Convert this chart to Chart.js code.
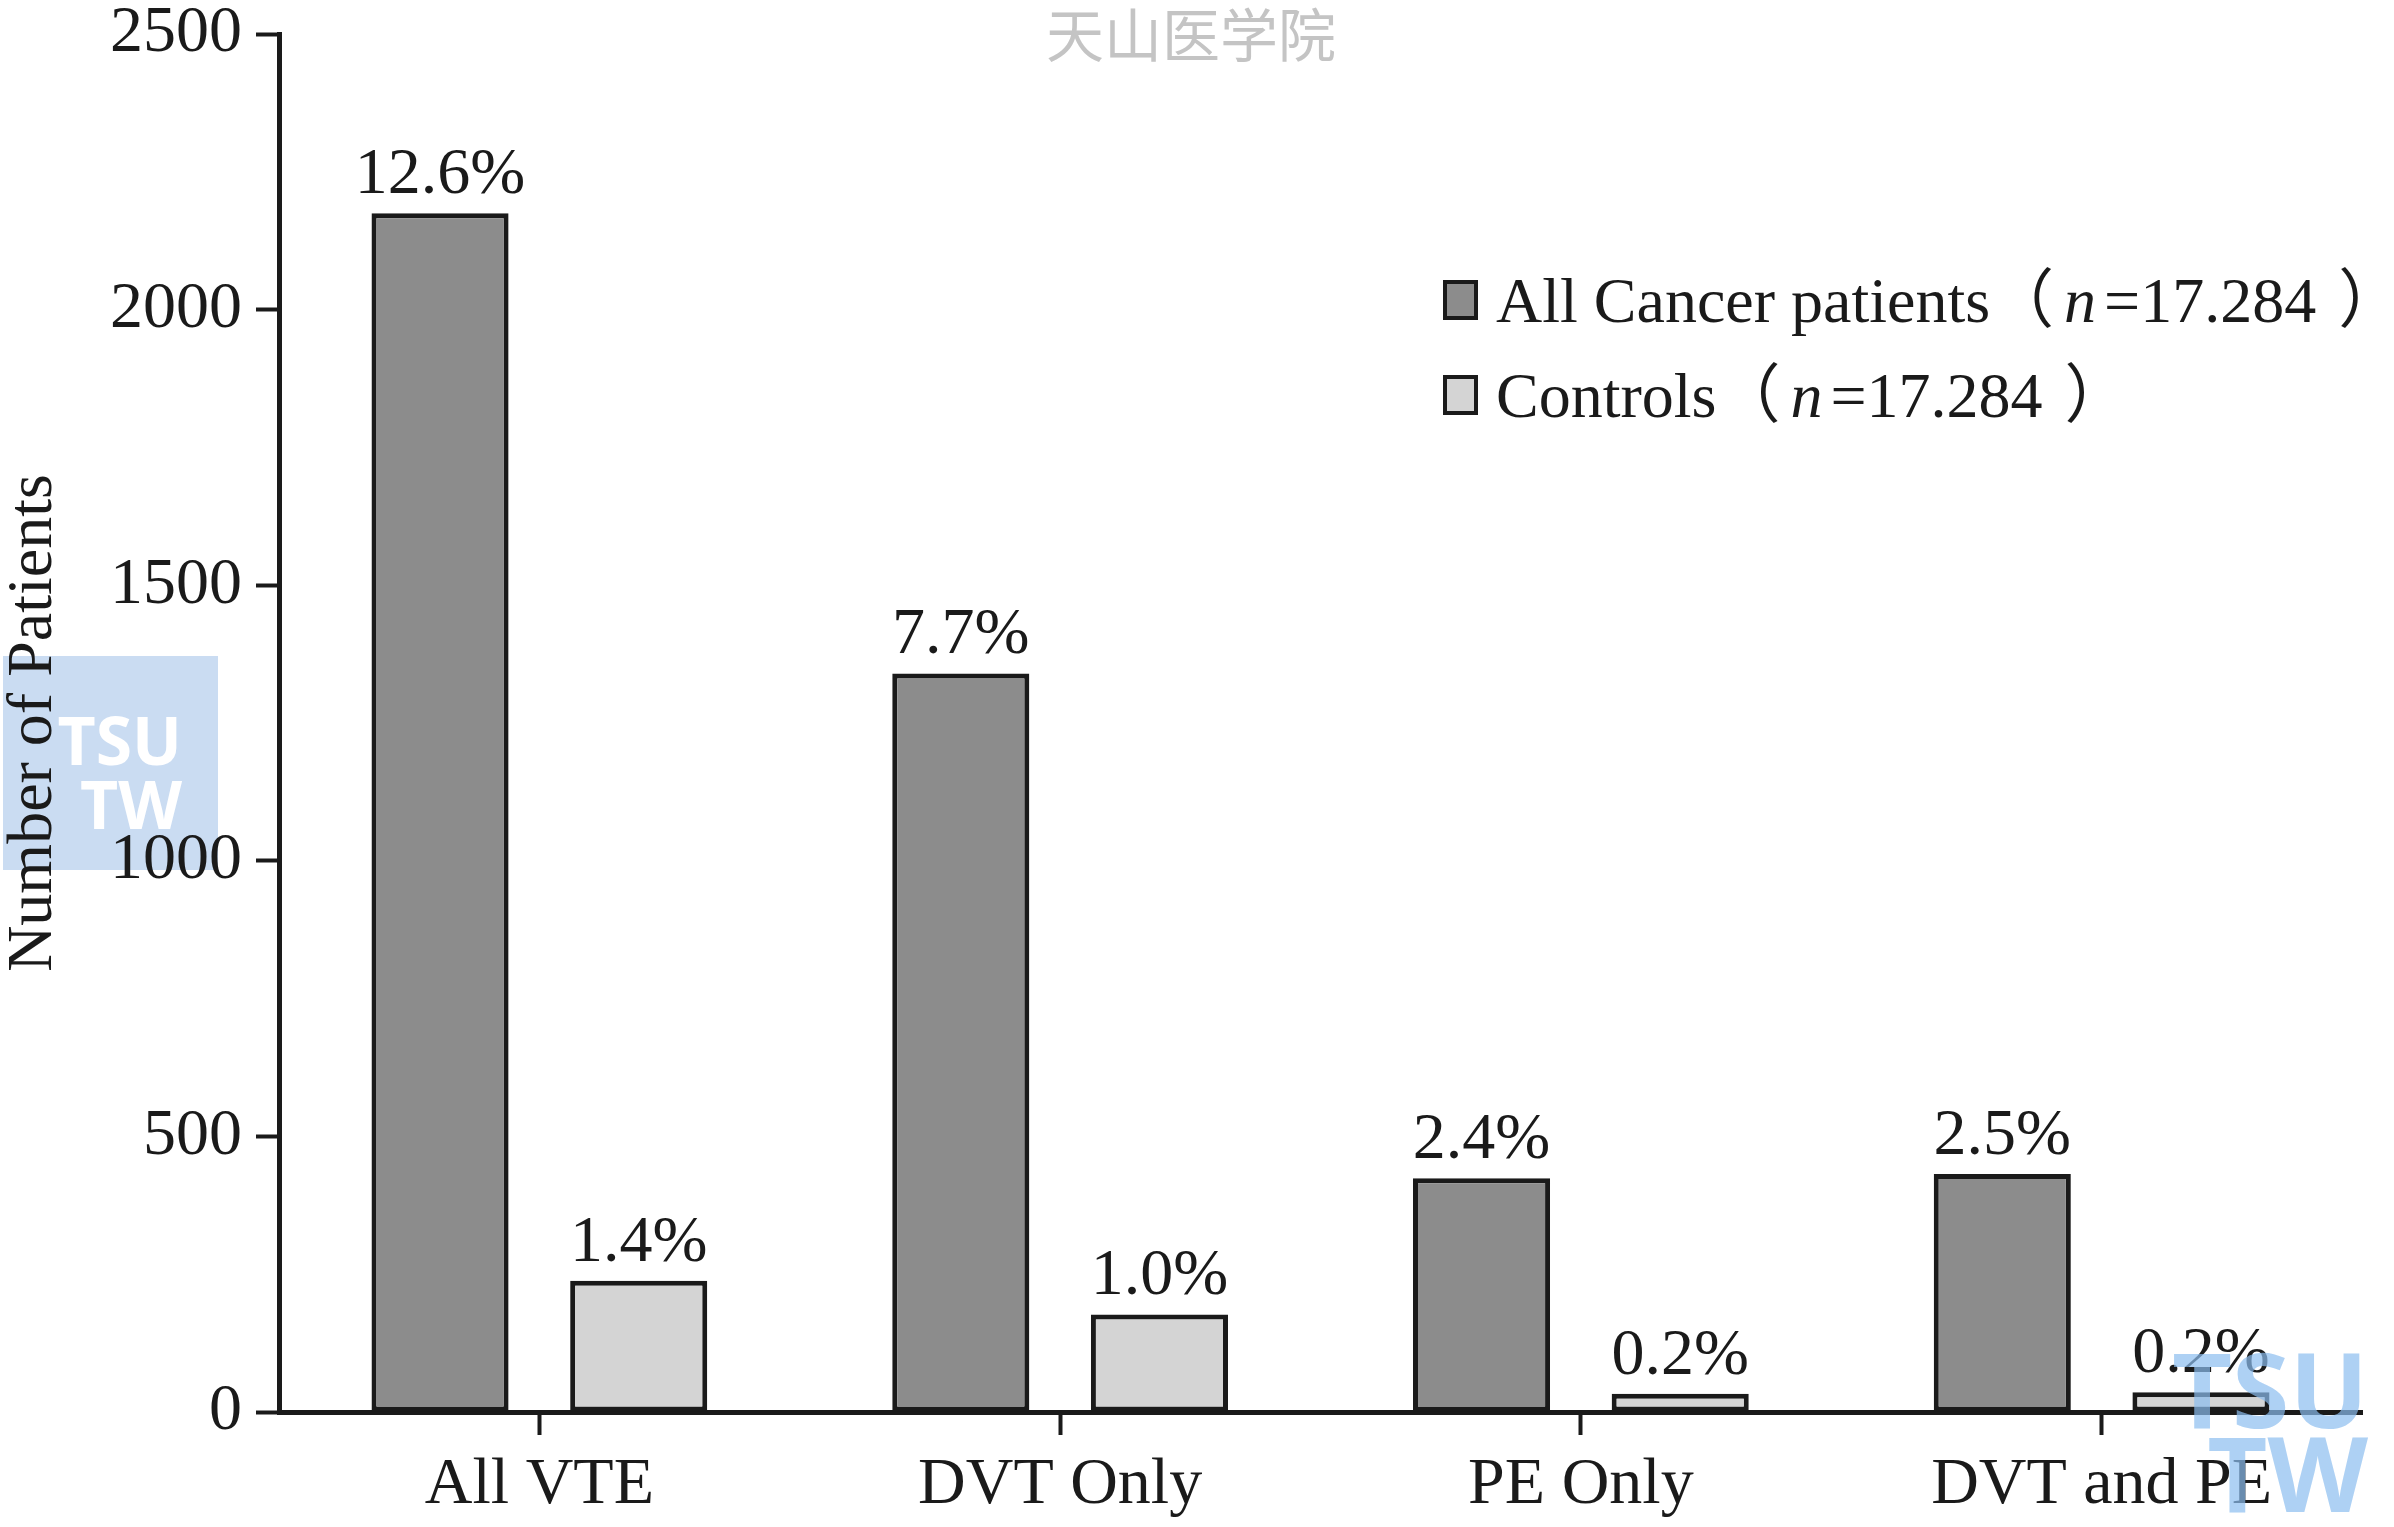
<!DOCTYPE html>
<html>
<head>
<meta charset="utf-8">
<script src="https://cdn.jsdelivr.net/npm/chart.js@4.4.1/dist/chart.umd.min.js"></script>
<style>
  html, body { margin: 0; padding: 0; background: #fff; }
  #wrap { width: 2394px; height: 1527px; }
</style>
</head>
<body>
<div id="wrap"><canvas id="chart" width="2394" height="1527"></canvas></div>
<script>
const categories = ['All VTE', 'DVT Only', 'PE Only', 'DVT and PE'];
const cancerValues = [2175, 1340, 424, 432];
const controlValues = [238, 177, 33, 36];
const cancerPct = ['12.6%', '7.7%', '2.4%', '2.5%'];
const controlPct = ['1.4%', '1.0%', '0.2%', '0.2%'];
const seriesLabels = ['All Cancer patients（n=17.284）', 'Controls（n=17.284）'];
const yMin = 0, yMax = 2500, yStep = 500;

const SERIF = "'Liberation Serif', 'Noto Sans CJK SC', serif";
const INK = '#1a1a1a';

// blue TSU box behind the y title
const backMarks = {
  id: 'backMarks',
  beforeDraw(chart) {
    const ctx = chart.ctx;
    ctx.save();
    ctx.fillStyle = '#cadcf2';
    ctx.fillRect(3, 656, 215, 214);
    ctx.fillStyle = '#ffffff';
    ctx.font = "bold 66px 'Open Sans', sans-serif";
    ctx.textAlign = 'right';
    ctx.textBaseline = 'alphabetic';
    ctx.fillText('TSU', 182, 765);
    ctx.fillText('TW', 182, 829);
    ctx.restore();
  }
};

// percentage text over each bar
const pctLabels = {
  id: 'pctLabels',
  afterDatasetsDraw(chart) {
    const ctx = chart.ctx;
    const texts = [cancerPct, controlPct];
    ctx.save();
    ctx.font = '66px ' + SERIF;
    ctx.fillStyle = INK;
    ctx.textAlign = 'center';
    ctx.textBaseline = 'alphabetic';
    chart.data.datasets.forEach((ds, i) => {
      chart.getDatasetMeta(i).data.forEach((bar, j) => {
        ctx.fillText(texts[i][j], bar.x, bar.y - 20);
      });
    });
    ctx.restore();
  }
};

// legend with italic n, placed inside the plot
const boxLegend = {
  id: 'boxLegend',
  afterDraw(chart) {
    const ctx = chart.ctx;
    const x0 = 1443, y0 = 280, rowH = 95;
    ctx.save();
    chart.data.datasets.forEach((ds, i) => {
      const y = y0 + i * rowH;
      ctx.fillStyle = ds.backgroundColor;
      ctx.fillRect(x0, y, 35, 40);
      ctx.lineWidth = 4;
      ctx.strokeStyle = INK;
      ctx.strokeRect(x0 + 2, y + 2, 31, 36);

      const m = ds.label.match(/^(.*)（n=(.*)）$/);
      let x = x0 + 53;
      const base = y + 42;
      ctx.fillStyle = INK;
      ctx.textBaseline = 'alphabetic';
      ctx.textAlign = 'left';
      // [text, style, extra gap after]
      const parts = [
        [m[1], 'normal', 0], ['（', 'normal', 10], ['n', 'italic', 8],
        ['=' + m[2], 'normal', 22], ['）', 'normal', 0]
      ];
      parts.forEach(([t, st, gap]) => {
        ctx.font = st + ' 64px ' + SERIF;
        ctx.fillText(t, x, base);
        x += ctx.measureText(t).width + gap;
      });
    });
    ctx.restore();
  }
};

// watermarks on top
const frontMarks = {
  id: 'frontMarks',
  afterDraw(chart) {
    const ctx = chart.ctx;
    ctx.save();
    ctx.fillStyle = '#c4c4c4';
    ctx.font = "58px 'Noto Sans CJK SC', sans-serif";
    ctx.textAlign = 'left';
    ctx.textBaseline = 'top';
    ctx.fillText('天山医学院', 1046, 6);
    ctx.fillStyle = 'rgba(140, 190, 240, 0.7)';
    ctx.font = "bold 104px 'Open Sans', sans-serif";
    ctx.textAlign = 'right';
    ctx.textBaseline = 'alphabetic';
    ctx.fillText('TSU', 2368, 1428);
    ctx.fillText('TW', 2368, 1512);
    ctx.restore();
  }
};

new Chart(document.getElementById('chart'), {
  type: 'bar',
  data: {
    labels: categories,
    datasets: [
      {
        label: seriesLabels[0],
        data: cancerValues,
        backgroundColor: '#8c8c8c',
        borderColor: INK,
        borderWidth: 5,
        borderSkipped: false
      },
      {
        label: seriesLabels[1],
        data: controlValues,
        backgroundColor: '#d4d4d4',
        borderColor: INK,
        borderWidth: 5,
        borderSkipped: false
      }
    ]
  },
  options: {
    responsive: false,
    devicePixelRatio: 1,
    animation: false,
    categoryPercentage: 0.763,
    barPercentage: 0.69,
    layout: { padding: { top: 34, right: 32, left: 0, bottom: 0 } },
    plugins: {
      legend: { display: false },
      tooltip: { enabled: false }
    },
    scales: {
      x: {
        grid: { display: true, drawOnChartArea: false, offset: false, tickLength: 23, tickWidth: 4, tickColor: INK },
        border: { display: true, color: INK, width: 5 },
        ticks: { color: INK, font: { family: SERIF, size: 66, lineHeight: 1.0 }, padding: 18 },
        afterFit(scale) { scale.height = 115; }
      },
      y: {
        min: yMin,
        max: yMax,
        grid: { display: true, drawOnChartArea: false, tickLength: 23, tickWidth: 4, tickColor: INK },
        border: { display: true, color: INK, width: 5 },
        ticks: {
          stepSize: yStep,
          color: INK,
          font: { family: SERIF, size: 66, lineHeight: 0.6 },
          padding: 14,
          callback: (v) => String(v)
        },
        title: {
          display: true,
          text: 'Number of Patients',
          color: INK,
          font: { family: SERIF, size: 64, lineHeight: 1.0 },
          padding: { top: 2, bottom: 0 }
        },
        afterFit(scale) { scale.width = 279; }
      }
    }
  },
  plugins: [backMarks, pctLabels, boxLegend, frontMarks]
});
</script>
</body>
</html>
